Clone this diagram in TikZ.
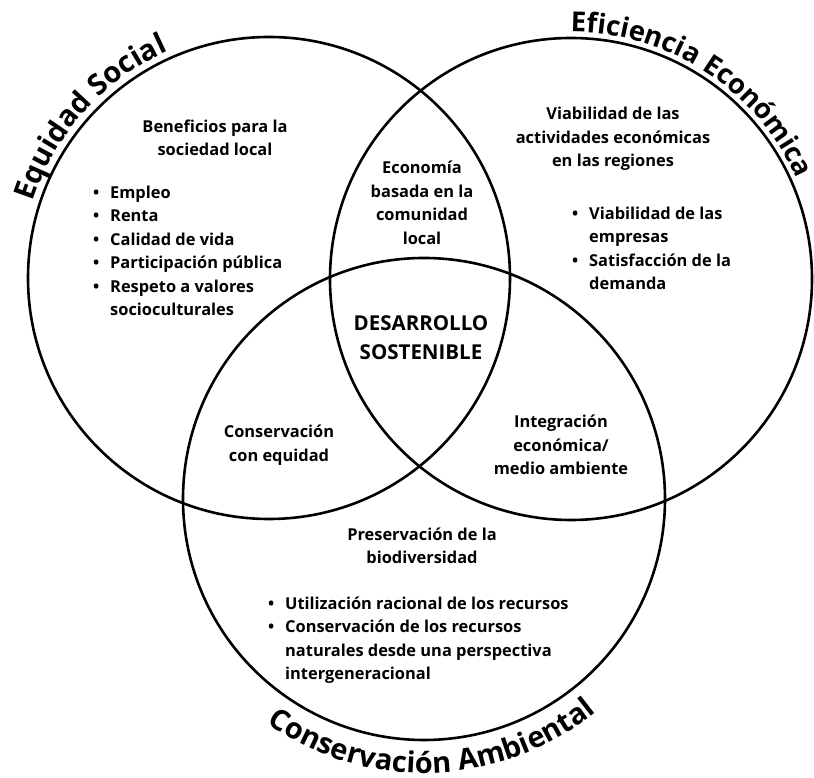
\documentclass[tikz,border=0pt]{standalone}
\usepackage{fontspec}
\setmainfont{Open Sans}
\usetikzlibrary{decorations.text}
\newcommand\ttlfont{\fontsize{29}{34}\selectfont\bfseries}
\newcommand\ttlfontsm{\fontsize{27.5}{32}\selectfont\bfseries}
\newcommand\bul{\makebox[17pt][l]{•}}
\begin{document}
\begin{tikzpicture}[x=1pt,y=1pt,
  venn/.style={circle, draw=black, line width=2.6pt, minimum size=482pt, inner sep=0pt},
  txt/.style={align=center, inner sep=0pt, font=\fontsize{16.4}{23.5}\selectfont\bfseries},
  lst/.style={align=left, inner sep=0pt, anchor=north west, font=\fontsize{16.4}{23.5}\selectfont\bfseries},
  big/.style={align=center, inner sep=0pt, font=\fontsize{20.5}{29}\selectfont\bfseries},
  arctitle/.style={decorate, decoration={text along path, text align=center, text={#1}}}]
\useasboundingbox (0,0) rectangle (814,778);

% the three spheres
\node[venn] (social) at (269,500) {};
\node[venn] (econ)   at (571,499) {};
\node[venn] (env)    at (424,279) {};

% curved titles
\path[arctitle={|\ttlfont|Equidad Social}] (social.center) ++(180:248pt) arc[start angle=180, end angle=96, radius=248pt];
\path[arctitle={|\ttlfontsm|Eficiencia Económica}] (econ.center) ++(99:247pt) arc[start angle=99, end angle=15, radius=247pt];
\path[arctitle={|\ttlfont|Conservación Ambiental}] (env.center) ++(200:274pt) arc[start angle=200, end angle=344, radius=274pt];

% social sphere
\node[txt] (benef) at (215,640) {Beneficios para la\\sociedad local};
\node[lst] (benefList) at (93,592.5) {\bul Empleo\\\bul Renta\\\bul Calidad de vida\\\bul Participación pública\\\bul Respeto a valores\\\hspace*{17pt}socioculturales};

% economic sphere
\node[txt] (viab) at (613,639) {Viabilidad de las\\actividades económicas\\en las regiones};
\node[lst] (viabList) at (572,571.5) {\bul Viabilidad de las\\\hspace*{17pt}empresas\\\bul Satisfacción de la\\\hspace*{17pt}demanda};

% environmental sphere
\node[txt] (pres) at (422,232) {Preservación de la\\biodiversidad};
\node[lst] (presList) at (268,181.5) {\bul Utilización racional de los recursos\\\bul Conservación de los recursos\\\hspace*{17pt}naturales desde una perspectiva\\\hspace*{17pt}intergeneracional};

% overlaps
\node[txt] (community) at (422,575) {Economía\\basada en la\\comunidad\\local};
\node[txt] (equity) at (279,333) {Conservación\\con equidad};
\node[txt] (integr) at (561,333) {Integración\\económica/\\medio ambiente};
\node[big] (core) at (421,440) {DESARROLLO\\SOSTENIBLE};
\end{tikzpicture}
\end{document}
